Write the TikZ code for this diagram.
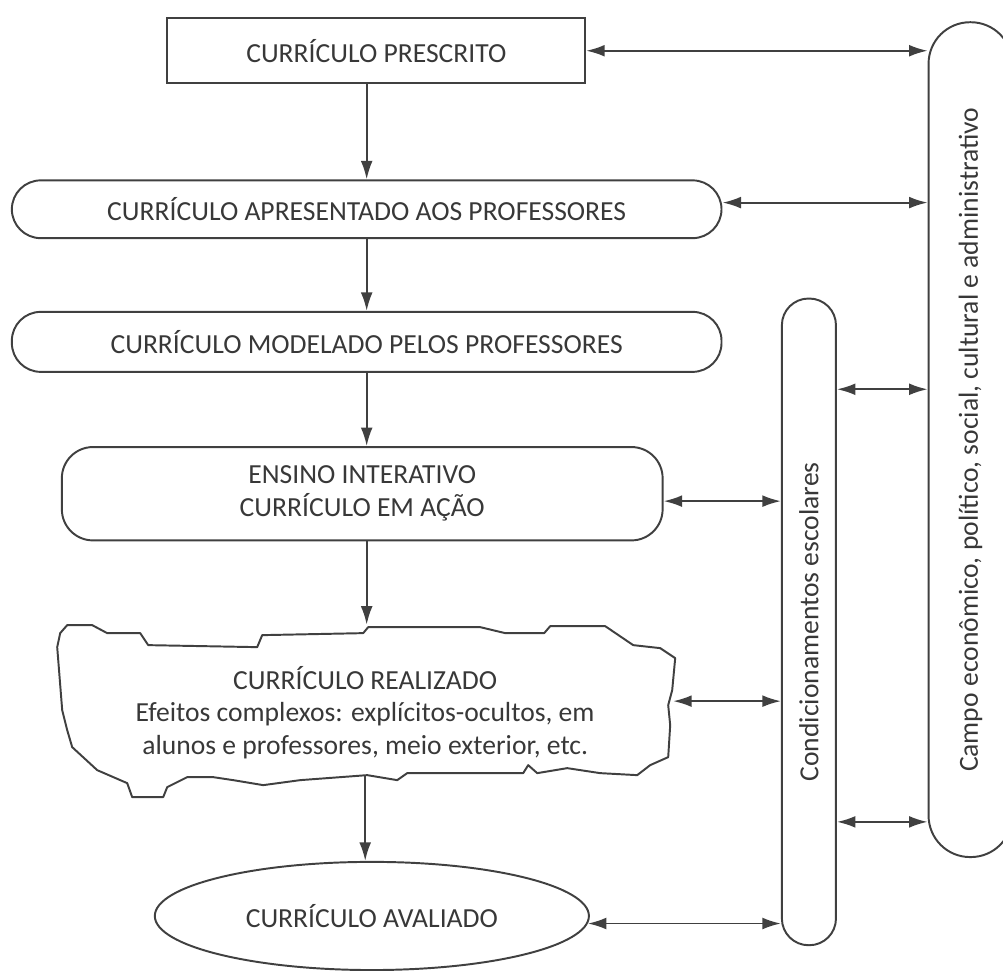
\documentclass[tikz,border=0pt]{standalone}
\usepackage{fontspec}
\setmainfont{Carlito}
\usetikzlibrary{shapes.geometric,arrows.meta,positioning}
\tikzset{
  txt/.style={font=\fontsize{10.6}{12.6}\selectfont, text=black!78, align=center},
  box/.style={rectangle, draw=black!75, line width=0.75pt, inner sep=0pt, txt},
  pill/.style={box, rounded corners=0.39cm},
  oval/.style={ellipse, draw=black!75, line width=0.75pt, inner sep=0pt, txt},
  rough/.style={draw=black!75, line width=0.75pt, line join=round},
  ed/.style={-{Latex[length=2.5mm,width=1.6mm]}, line width=0.75pt, draw=black!75},
  edd/.style={{Latex[length=2.5mm,width=1.6mm]}-{Latex[length=2.5mm,width=1.6mm]}, line width=0.75pt, draw=black!75}
}
\begin{document}
\begin{tikzpicture}
\useasboundingbox (0,0) rectangle (13.54,13.095);
\node[box, minimum width=5.64cm, minimum height=0.88cm] (pres) at (5.08,12.41) {CURRÍCULO PRESCRITO};
\node[pill, minimum width=9.58cm, minimum height=0.78cm] (apres) at (4.95,10.27) {CURRÍCULO APRESENTADO AOS PROFESSORES};
\node[pill, minimum width=9.58cm, minimum height=0.81cm] (model) at (4.95,8.48) {CURRÍCULO MODELADO PELOS PROFESSORES};
\node[box, rounded corners=0.42cm, minimum width=8.11cm, minimum height=1.26cm] (ensino) at (4.89,6.43) {ENSINO INTERATIVO\\CURRÍCULO EM AÇÃO};
\node[txt, minimum width=8.30cm, minimum height=2.03cm, inner sep=0pt] (realiz) at (4.93,3.63)
  {\rule{0pt}{0.62cm}CURRÍCULO REALIZADO\\Efeitos complexos: explícitos-ocultos, em\\alunos e professores, meio exterior, etc.};
\node[oval, minimum width=5.86cm, minimum height=1.46cm] (aval) at (5.02,0.73) {CURRÍCULO AVALIADO};
\node[box, rounded corners=0.36cm, minimum width=0.73cm, minimum height=8.73cm] (condic) at (10.92,4.70)
  {\rotatebox{90}{Condicionamentos escolares}};
\node[box, rounded corners=0.56cm, minimum width=1.13cm, minimum height=11.27cm] (campo) at (13.10,7.16)
  {\rotatebox{90}{Campo econômico, político, social, cultural e administrativo}};
% torn outline of the realised curriculum
\begin{scope}[shift={(realiz.center)}, x=0.135mm, y=-0.135mm]
\draw[rough] (-308,-54) -- (-305,-68) -- (-298,-76) -- (-273,-76) -- (-258,-68) -- (-225,-68)
  -- (-217,-56) -- (-108,-54) -- (-103,-66) -- (-2,-68) -- (3,-74) -- (115,-74) -- (140,-68)
  -- (179,-68) -- (185,-75) -- (240,-75) -- (268,-56) -- (295,-53) -- (310,-43)
  -- (307,-11) -- (303,4) -- (305,24) -- (303,56) -- (285,64) -- (272,74) -- (235,72)
  -- (202,67) -- (172,72) -- (163,64) -- (158,72) -- (42,72) -- (32,79) -- (2,74)
  -- (-65,79) -- (-102,84) -- (-132,79) -- (-152,76) -- (-178,76) -- (-198,86) -- (-202,96)
  -- (-233,96) -- (-238,82) -- (-268,69) -- (-293,46) -- (-298,29) -- (-303,9) -- cycle;
\end{scope}
% main sequence
\draw[ed] (pres.south -| apres.north) -- (apres.north);
\draw[ed] (apres.south) -- (model.north);
\draw[ed] (model.south) -- (model.south |- ensino.north);
\draw[ed] (ensino.south -| model.south) -- ([yshift=0.01cm]model.south |- realiz.north);
\draw[ed] ([yshift=0.02cm]realiz.south) -- (realiz.south |- aval.north);
% links to the context
\draw[edd] (pres.east) -- (pres.east -| campo.west);
\draw[edd] ([yshift=0.09cm]apres.east) -- ([yshift=0.09cm]apres.east -| campo.west);
\draw[edd] ([yshift=-0.1cm]ensino.east) -- ([yshift=-0.1cm]ensino.east -| condic.west);
\draw[edd] (realiz.east) -- (realiz.east -| condic.west);
\draw[edd] (aval.-2) -- (aval.-2 -| condic.west);
\draw[edd] ([yshift=3.14cm]condic.east) -- ([yshift=3.14cm]condic.east -| campo.west);
\draw[edd] ([yshift=-2.70cm]condic.east) -- ([yshift=-2.70cm]condic.east -| campo.west);
\end{tikzpicture}
\end{document}
